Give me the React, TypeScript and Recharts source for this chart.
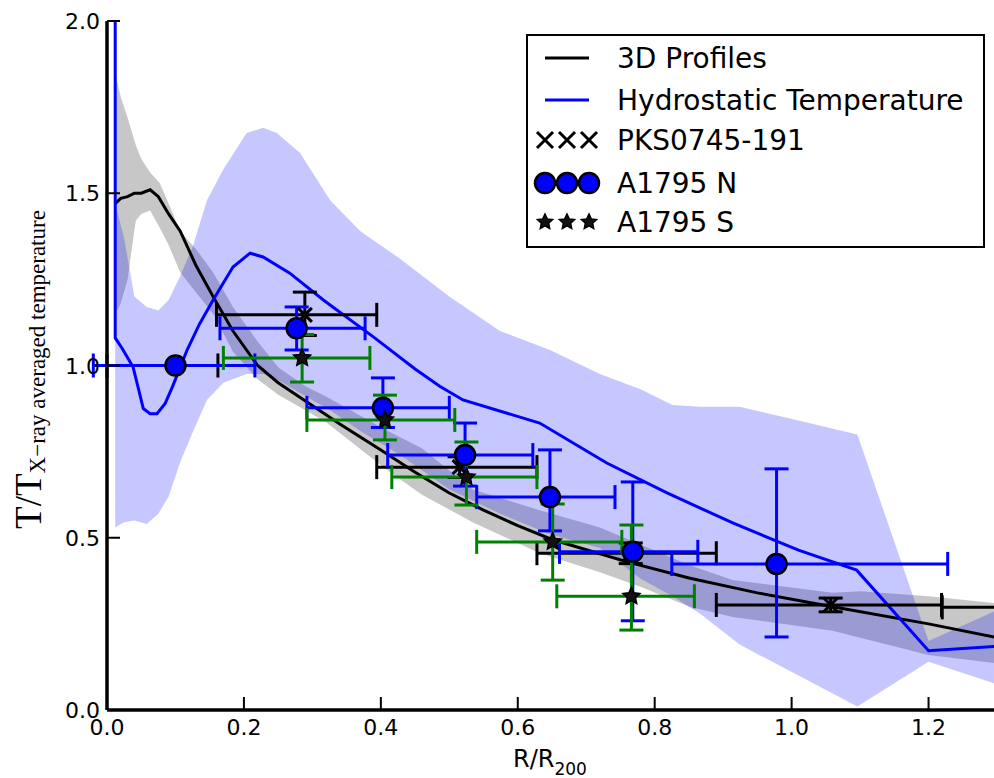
import React from 'react';
import { ComposedChart, Area, Line, Scatter, XAxis, YAxis, ErrorBar } from 'recharts';

// ---- data ----
const xTicks = [0, 0.2, 0.4, 0.6, 0.8, 1.0, 1.2];
const yTicks = [0, 0.5, 1.0, 1.5, 2.0];

const profile3D = [
  { x: 0.012, y: 1.47 }, { x: 0.02, y: 1.485 }, { x: 0.03, y: 1.49 }, { x: 0.04, y: 1.5 },
  { x: 0.05, y: 1.5 }, { x: 0.063, y: 1.51 }, { x: 0.075, y: 1.49 }, { x: 0.09, y: 1.44 },
  { x: 0.107, y: 1.39 }, { x: 0.13, y: 1.29 }, { x: 0.155, y: 1.2 }, { x: 0.184, y: 1.1 },
  { x: 0.22, y: 1.0 }, { x: 0.25, y: 0.95 }, { x: 0.28, y: 0.91 }, { x: 0.34, y: 0.83 },
  { x: 0.4, y: 0.755 }, { x: 0.45, y: 0.69 }, { x: 0.5, y: 0.63 }, { x: 0.55, y: 0.58 },
  { x: 0.6, y: 0.535 }, { x: 0.65, y: 0.495 }, { x: 0.7, y: 0.465 }, { x: 0.76, y: 0.43 },
  { x: 0.85, y: 0.383 }, { x: 0.95, y: 0.34 }, { x: 1.06, y: 0.3 }, { x: 1.2, y: 0.25 },
  { x: 1.3, y: 0.21 },
];

const profile3DRange = [
  { x: 0.012, range: [1.15, 1.85] }, { x: 0.02, range: [1.18, 1.78] }, { x: 0.03, range: [1.25, 1.72] },
  { x: 0.042, range: [1.42, 1.64] }, { x: 0.05, range: [1.44, 1.6] }, { x: 0.063, range: [1.45, 1.56] },
  { x: 0.077, range: [1.4, 1.53] }, { x: 0.09, range: [1.35, 1.47] }, { x: 0.107, range: [1.27, 1.39] },
  { x: 0.131, range: [1.21, 1.335] }, { x: 0.155, range: [1.15, 1.27] }, { x: 0.184, range: [1.04, 1.17] },
  { x: 0.22, range: [0.96, 1.07] }, { x: 0.25, range: [0.915, 0.995] }, { x: 0.29, range: [0.87, 0.94] },
  { x: 0.32, range: [0.835, 0.91] }, { x: 0.41, range: [0.695, 0.81] }, { x: 0.46, range: [0.625, 0.76] },
  { x: 0.534, range: [0.545, 0.64] }, { x: 0.632, range: [0.455, 0.58] }, { x: 0.72, range: [0.4, 0.53] },
  { x: 0.78, range: [0.357, 0.48] }, { x: 0.851, range: [0.3, 0.42] }, { x: 0.914, range: [0.27, 0.377] },
  { x: 1.06, range: [0.23, 0.34] }, { x: 1.1, range: [0.21, 0.345] }, { x: 1.2, range: [0.16, 0.33] },
  { x: 1.3, range: [0.135, 0.31] },
];

const hydroTemp = [
  { x: 0.012, y: 2.0 }, { x: 0.012, y: 1.08 }, { x: 0.022, y: 1.05 }, { x: 0.038, y: 0.996 },
  { x: 0.045, y: 0.94 }, { x: 0.053, y: 0.875 }, { x: 0.063, y: 0.86 }, { x: 0.073, y: 0.86 },
  { x: 0.085, y: 0.89 }, { x: 0.096, y: 0.94 }, { x: 0.117, y: 1.045 }, { x: 0.135, y: 1.12 },
  { x: 0.155, y: 1.19 }, { x: 0.184, y: 1.286 }, { x: 0.209, y: 1.326 }, { x: 0.228, y: 1.315 },
  { x: 0.267, y: 1.268 }, { x: 0.316, y: 1.19 }, { x: 0.389, y: 1.083 }, { x: 0.45, y: 0.99 },
  { x: 0.486, y: 0.94 }, { x: 0.52, y: 0.9 }, { x: 0.632, y: 0.833 }, { x: 0.73, y: 0.717 },
  { x: 0.818, y: 0.63 }, { x: 0.914, y: 0.543 }, { x: 1.01, y: 0.464 }, { x: 1.095, y: 0.406 },
  { x: 1.2, y: 0.172 }, { x: 1.3, y: 0.185 },
];

const hydroRange = [
  { x: 0.012, range: [0.53, 1.47] }, { x: 0.025, range: [0.545, 1.37] }, { x: 0.04, range: [0.55, 1.2] },
  { x: 0.058, range: [0.54, 1.17] }, { x: 0.075, range: [0.57, 1.16] }, { x: 0.09, range: [0.62, 1.19] },
  { x: 0.107, range: [0.72, 1.26] }, { x: 0.126, range: [0.81, 1.35] }, { x: 0.146, range: [0.9, 1.48] },
  { x: 0.17, range: [0.95, 1.57] }, { x: 0.204, range: [0.975, 1.675] }, { x: 0.228, range: [0.975, 1.69] },
  { x: 0.248, range: [0.96, 1.675] }, { x: 0.282, range: [0.92, 1.617] }, { x: 0.326, range: [0.87, 1.48] },
  { x: 0.37, range: [0.81, 1.39] }, { x: 0.428, range: [0.74, 1.31] }, { x: 0.5, range: [0.64, 1.2] },
  { x: 0.574, range: [0.57, 1.1] }, { x: 0.647, range: [0.51, 1.045] }, { x: 0.72, range: [0.47, 0.975] },
  { x: 0.78, range: [0.38, 0.93] }, { x: 0.826, range: [0.33, 0.885] }, { x: 0.866, range: [0.28, 0.88] },
  { x: 0.924, range: [0.19, 0.88] }, { x: 1.01, range: [0.1, 0.84] }, { x: 1.096, range: [0.01, 0.8] },
  { x: 1.2, range: [0.14, 0.2] }, { x: 1.3, range: [0.075, 0.29] },
];

const pks0745 = [
  { x: 0.1, y: 1.0, xErr: [0.1, 0.062], yErr: [0, 0] },
  { x: 0.289, y: 1.147, xErr: [0.129, 0.105], yErr: [0.06, 0.066] },
  { x: 0.515, y: 0.705, xErr: [0.121, 0.113], yErr: [0.03, 0.03] },
  { x: 0.765, y: 0.455, xErr: [0.137, 0.125], yErr: [0.03, 0.03] },
  { x: 1.057, y: 0.305, xErr: [0.167, 0.162], yErr: [0.02, 0.02] },
  { x: 1.4, y: 0.298, xErr: [0.18, 0.1], yErr: [0.02, 0.02] },
];

const a1795N = [
  { x: 0.1, y: 1.0, xErr: [0.12, 0.116], yErr: [0, 0] },
  { x: 0.277, y: 1.108, xErr: [0.112, 0.1], yErr: [0.063, 0.062] },
  { x: 0.403, y: 0.877, xErr: [0.111, 0.097], yErr: [0.057, 0.087] },
  { x: 0.523, y: 0.74, xErr: [0.113, 0.099], yErr: [0.09, 0.093] },
  { x: 0.647, y: 0.618, xErr: [0.107, 0.095], yErr: [0.098, 0.137] },
  { x: 0.768, y: 0.459, xErr: [0.107, 0.095], yErr: [0.2, 0.203] },
  { x: 0.978, y: 0.424, xErr: [0.153, 0.25], yErr: [0.212, 0.276] },
];

const a1795S = [
  { x: 0.285, y: 1.022, xErr: [0.115, 0.099], yErr: [0.07, 0.068] },
  { x: 0.406, y: 0.842, xErr: [0.114, 0.102], yErr: [0.058, 0.072] },
  { x: 0.525, y: 0.676, xErr: [0.109, 0.103], yErr: [0.081, 0.102] },
  { x: 0.651, y: 0.488, xErr: [0.111, 0.101], yErr: [0.111, 0.11] },
  { x: 0.766, y: 0.33, xErr: [0.109, 0.092], yErr: [0.098, 0.207] },
];

const legendItems = ['3D Profiles', 'Hydrostatic Temperature', 'PKS0745-191', 'A1795 N', 'A1795 S'];

// ---- markers ----
const BLUE = '#0000ff';
const GREEN = '#008000';
const SANS = "'DejaVu Sans', sans-serif";
const TICK_LEN = 13;

const starPath = (cx: number, cy: number, R: number, r: number) => {
  let d = '';
  for (let i = 0; i < 10; i++) {
    const rad = i % 2 === 0 ? R : r;
    const a = -Math.PI / 2 + (i * Math.PI) / 5;
    d += (i ? 'L' : 'M') + (cx + rad * Math.cos(a)).toFixed(2) + ',' + (cy + rad * Math.sin(a)).toFixed(2);
  }
  return d + 'Z';
};

const XShape = ({ cx, cy, s = 7 }: any) => (
  <g stroke="#000" strokeWidth={3}>
    <line x1={cx - s} y1={cy - s} x2={cx + s} y2={cy + s} />
    <line x1={cx - s} y1={cy + s} x2={cx + s} y2={cy - s} />
  </g>
);
const CircleShape = ({ cx, cy, r = 10 }: any) => (
  <circle cx={cx} cy={cy} r={r} fill={BLUE} stroke="#000" strokeWidth={2.5} />
);
const StarShape = ({ cx, cy, R = 9 }: any) => (
  <path d={starPath(cx, cy, R, R * 0.48)} fill="#111" stroke="#000" strokeWidth={1.5} />
);

// inward ticks (matplotlib style), drawn by hand
const BottomTick = ({ x, y, payload }: any) => (
  <g>
    <path d={`M${x},${y}L${x},${y - TICK_LEN}`} stroke="#000" strokeWidth={2} fill="none" />
    <text x={x} y={y + 25} textAnchor="middle" fontSize={22} fontFamily={SANS} fill="#000">
      {Number(payload.value).toFixed(1)}
    </text>
  </g>
);
const LeftTick = ({ x, y, payload }: any) => (
  <g>
    <path d={`M${x},${y}L${x + TICK_LEN},${y}`} stroke="#000" strokeWidth={2} fill="none" />
    <text x={x - 7} y={y + 8} textAnchor="end" fontSize={22} fontFamily={SANS} fill="#000">
      {Number(payload.value).toFixed(1)}
    </text>
  </g>
);
const TopTick = ({ x, y }: any) => (
  <path d={`M${x},${y}L${x},${y + TICK_LEN}`} stroke="#000" strokeWidth={2} fill="none" />
);
const RightTick = ({ x, y }: any) => (
  <path d={`M${x},${y}L${x - TICK_LEN},${y}`} stroke="#000" strokeWidth={2} fill="none" />
);

const renderYLabel = (props: any) => {
  const vb = props.viewBox;
  const cy = vb.y + vb.height / 2 + 4;
  const x = 41;
  return (
    <text x={x} y={cy} transform={`rotate(-90, ${x}, ${cy})`} textAnchor="middle"
      fontFamily="'Liberation Serif', serif" fill="#000">
      <tspan fontSize={37}>T/T</tspan>
      <tspan fontSize={23} dy={4}>X−ray averaged temperature</tspan>
    </text>
  );
};

const renderXLabel = (props: any) => {
  const vb = props.viewBox;
  const cx = vb.x + vb.width / 2 - 2;
  return (
    <text x={cx} y={767} textAnchor="middle" fontFamily={SANS} fill="#000">
      <tspan fontSize={24}>R/R</tspan>
      <tspan fontSize={17} dy={8}>200</tspan>
    </text>
  );
};

const LegendBox = () => {
  const rows = [58, 100, 140, 183, 222];
  const mx = [545, 567, 589];
  return (
    <svg width={994} height={778} style={{ position: 'absolute', left: 0, top: 0, pointerEvents: 'none' }}>
      <rect x={527} y={35} width={457} height={212} fill="#fff" stroke="#000" strokeWidth={2} />
      <line x1={545} x2={589} y1={rows[0]} y2={rows[0]} stroke="#000" strokeWidth={3} />
      <line x1={545} x2={589} y1={rows[1]} y2={rows[1]} stroke={BLUE} strokeWidth={3} />
      {mx.map((x) => <XShape key={'x' + x} cx={x} cy={rows[2]} s={8} />)}
      {mx.map((x) => <CircleShape key={'c' + x} cx={x} cy={rows[3]} r={10} />)}
      {mx.map((x) => <StarShape key={'s' + x} cx={x} cy={rows[4]} R={8} />)}
      {legendItems.map((t, i) => (
        <text key={t} x={617} y={rows[i] + 10} fontSize={28} fontFamily={SANS} fill="#000">{t}</text>
      ))}
    </svg>
  );
};

const spine = { stroke: '#000', strokeWidth: 3.5 };

export default function App() {
  return (
    <div style={{ position: 'absolute', left: 0, top: 0, width: 994, height: 778, overflow: 'hidden', background: '#fff' }}>
      <ComposedChart width={1000} height={778} margin={{ top: 21, right: 3, bottom: 0, left: 0 }}>
        <XAxis dataKey="x" type="number" domain={[0, 1.3]} allowDataOverflow ticks={xTicks}
          tick={<BottomTick />} tickSize={0} tickMargin={0} tickLine={false}
          axisLine={spine} height={68} label={renderXLabel} />
        <XAxis xAxisId="top" orientation="top" type="number" domain={[0, 1.3]} allowDataOverflow
          ticks={xTicks} tick={<TopTick />} tickSize={0} tickMargin={0} tickLine={false}
          axisLine={spine} height={0} />
        <YAxis dataKey="y" type="number" domain={[0, 2]} allowDataOverflow ticks={yTicks}
          tick={<LeftTick />} tickSize={0} tickMargin={0} tickLine={false}
          axisLine={spine} width={107} label={renderYLabel} />
        <YAxis yAxisId="right" orientation="right" type="number" domain={[0, 2]} allowDataOverflow
          ticks={yTicks} tick={<RightTick />} tickSize={0} tickMargin={0} tickLine={false}
          axisLine={spine} width={0} />

        <Area data={profile3DRange} dataKey="range" type="linear" stroke="none" fill="#000"
          fillOpacity={0.22} isAnimationActive={false} dot={false} activeDot={false} />
        <Area data={hydroRange} dataKey="range" type="linear" stroke="none" fill={BLUE}
          fillOpacity={0.22} isAnimationActive={false} dot={false} activeDot={false} />
        <Line data={profile3D} dataKey="y" type="linear" stroke="#000" strokeWidth={3}
          dot={false} activeDot={false} isAnimationActive={false} />
        <Line data={hydroTemp} dataKey="y" type="linear" stroke={BLUE} strokeWidth={3}
          dot={false} activeDot={false} isAnimationActive={false} />

        <Scatter data={pks0745} shape={<XShape />} isAnimationActive={false}>
          <ErrorBar dataKey="xErr" direction="x" width={12} stroke="#000" strokeWidth={3} />
          <ErrorBar dataKey="yErr" direction="y" width={12} stroke="#000" strokeWidth={3} />
        </Scatter>
        <Scatter data={a1795N} shape={<CircleShape />} isAnimationActive={false}>
          <ErrorBar dataKey="xErr" direction="x" width={12} stroke={BLUE} strokeWidth={3} />
          <ErrorBar dataKey="yErr" direction="y" width={12} stroke={BLUE} strokeWidth={3} />
        </Scatter>
        <Scatter data={a1795S} shape={<StarShape />} isAnimationActive={false}>
          <ErrorBar dataKey="xErr" direction="x" width={12} stroke={GREEN} strokeWidth={3} />
          <ErrorBar dataKey="yErr" direction="y" width={12} stroke={GREEN} strokeWidth={3} />
        </Scatter>
      </ComposedChart>
      <LegendBox />
    </div>
  );
}
